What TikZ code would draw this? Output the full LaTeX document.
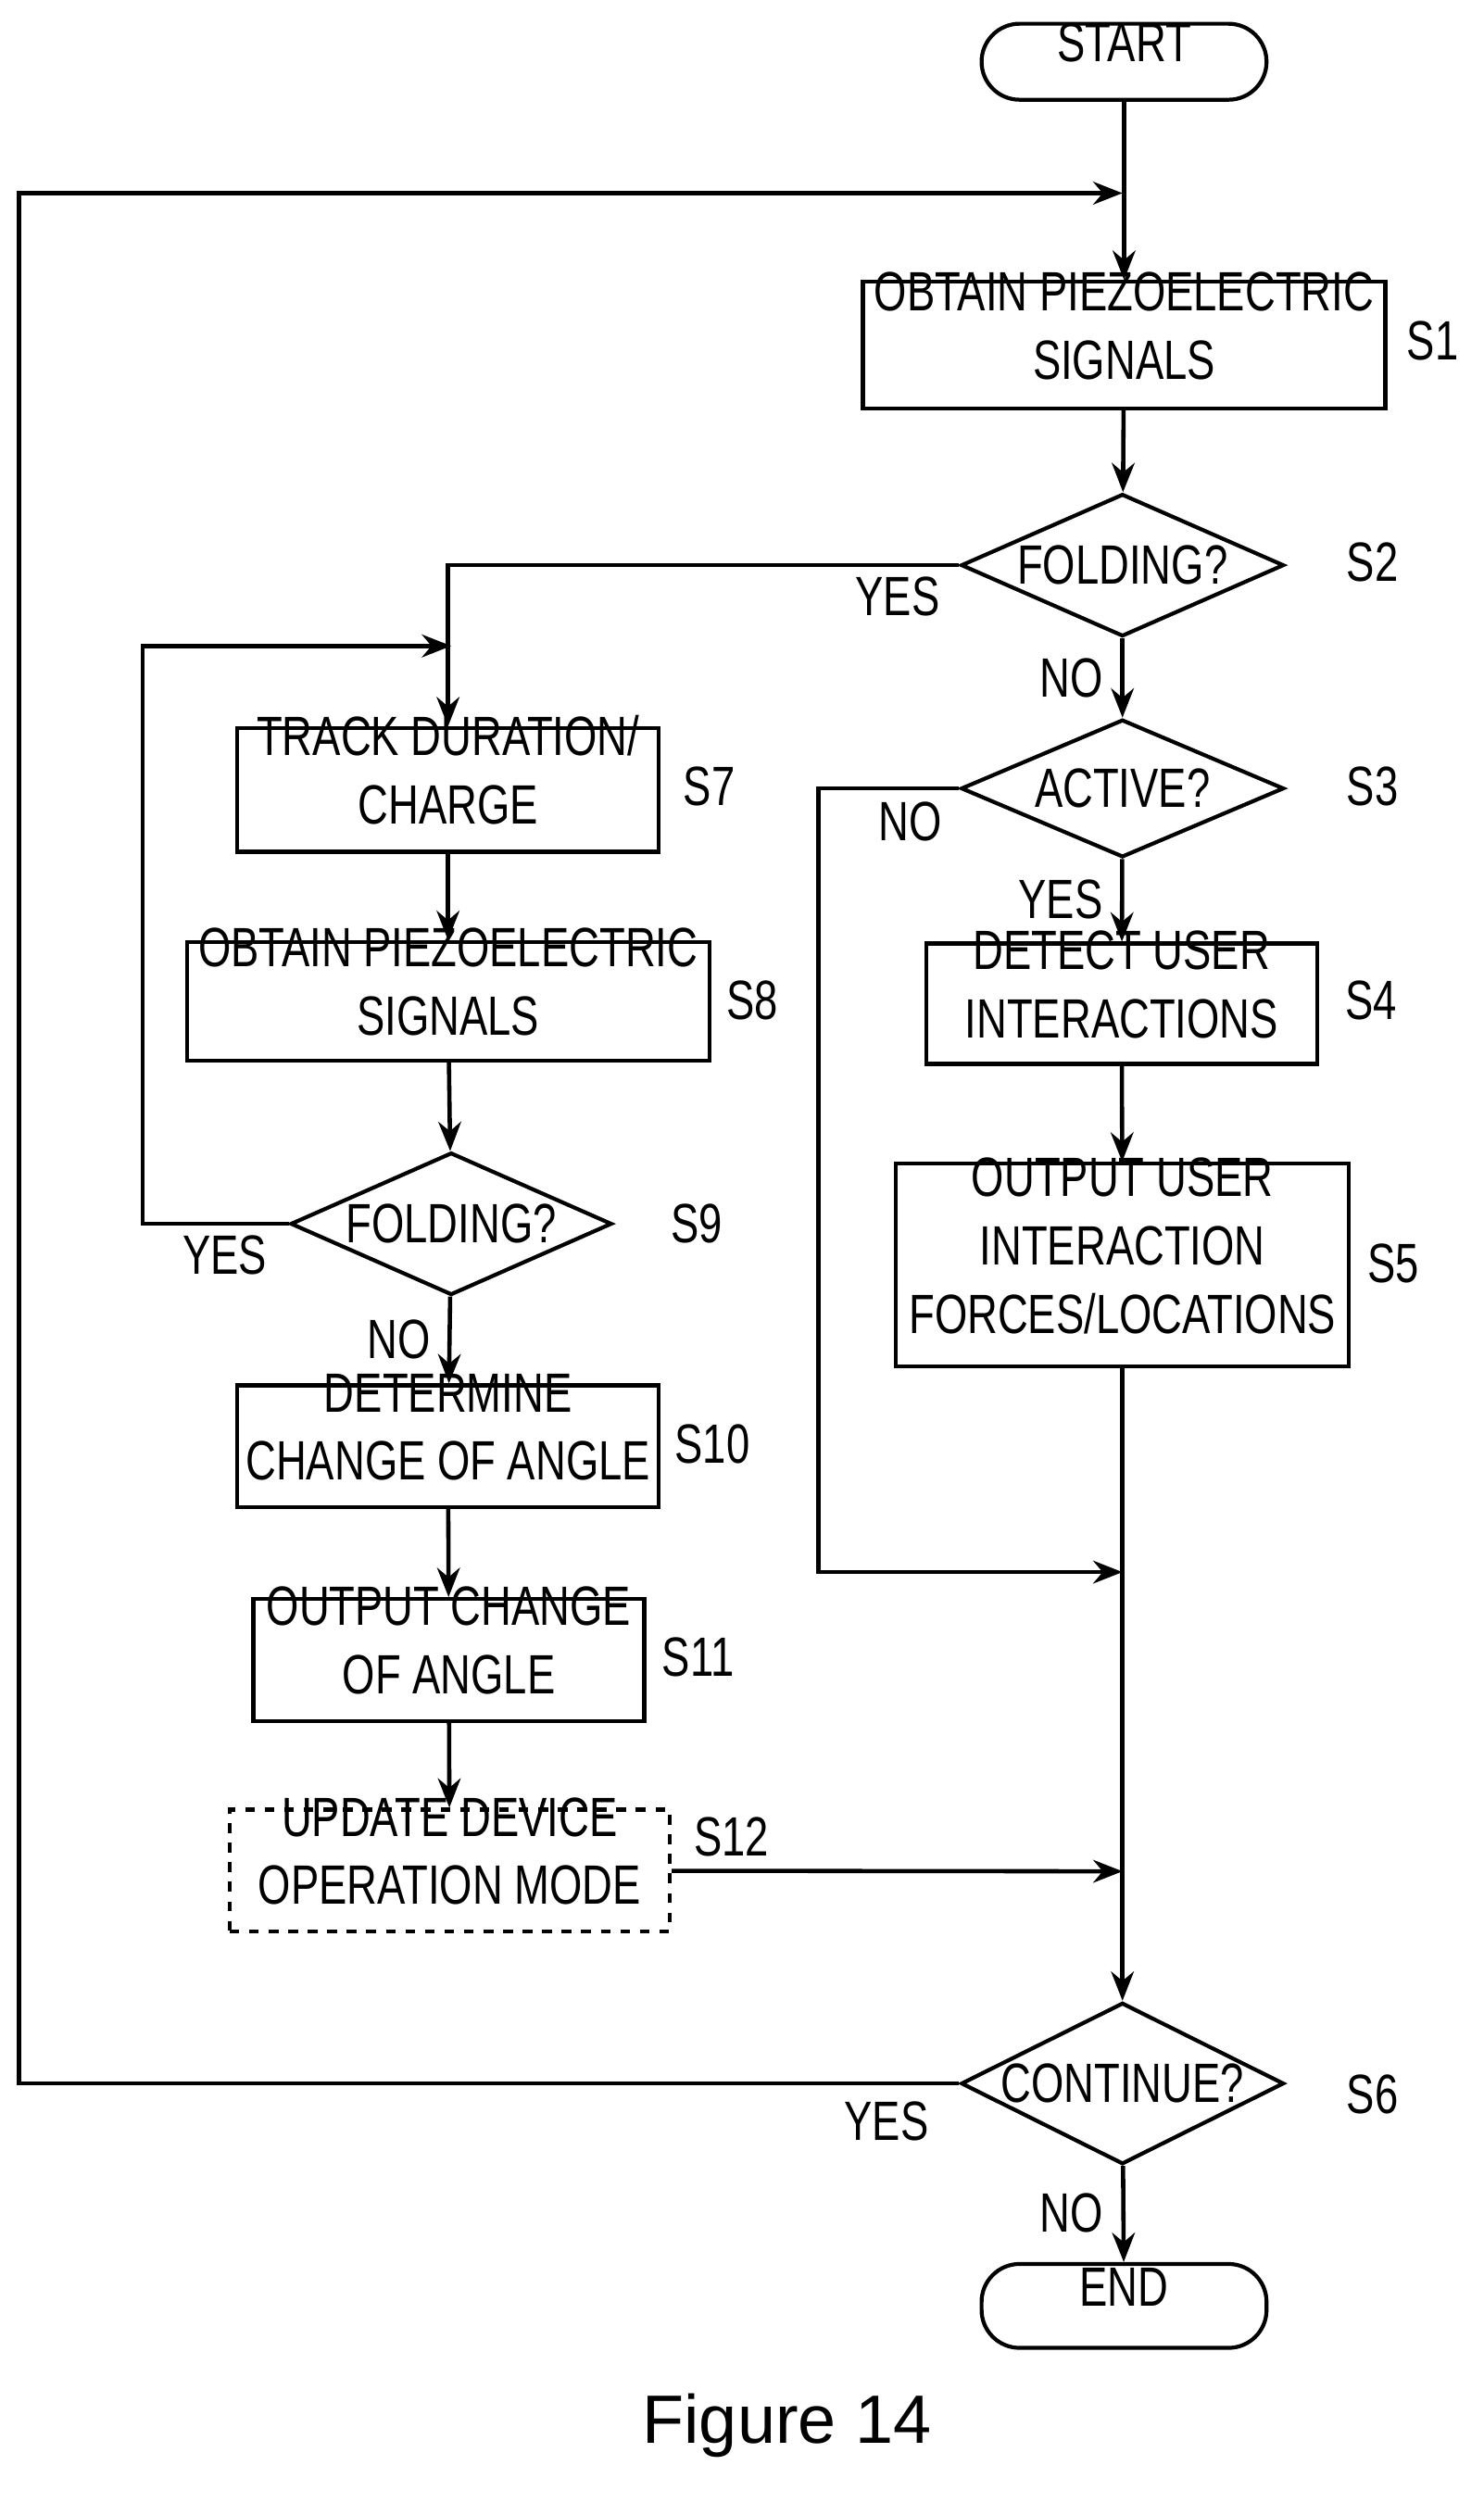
\documentclass[tikz,border=0pt]{standalone}
\usepackage{fontspec}
\setmainfont[FakeStretch=0.76]{Liberation Sans}
\newfontfamily\figfont{Liberation Sans}
\usetikzlibrary{shapes.geometric,fit,arrows.meta}
\begin{document}
\def\U{0.01709cm}
\begin{tikzpicture}[x=0.01709cm,y=-0.01709cm,
  every node/.style={font=\fontsize{17}{21}\selectfont},
  box/.style={draw,line width=1.2pt,inner sep=0pt,align=center},
  term/.style={box,rounded corners=24*\U},
  dia/.style={draw,line width=1.2pt,diamond,inner sep=0pt},
  ln/.style={line width=1.3pt},
  ar/.style={ln,-{Stealth[length=9pt,width=7pt]}}]
\useasboundingbox (0,0) rectangle (937,1581);
\node[term,fit={(620,15)(800,63)}] (start) {START};
\node[box,fit={(545,178)(875,258)}] (s1) {OBTAIN PIEZOELECTRIC\\SIGNALS};
\node[dia,minimum width=204*\U,minimum height=90*\U] (s2) at (709,357) {};
\node at (s2) {FOLDING?};
\node[dia,minimum width=204*\U,minimum height=87*\U] (s3) at (709,498) {};
\node at (s3) {ACTIVE?};
\node[box,fit={(585,596)(832,672)}] (s4) {DETECT USER\\INTERACTIONS};
\node[box,fit={(566,735)(852,863)}] (s5) {OUTPUT USER\\INTERACTION\\FORCES/LOCATIONS};
\node[dia,minimum width=204*\U,minimum height=102*\U] (s6) at (709,1316) {};
\node at (s6) {CONTINUE?};
\node[term,fit={(620,1430)(800,1483)}] (end) {END};
\node[box,fit={(150,460)(416,538)}] (s7) {TRACK DURATION/\\CHARGE};
\node[box,fit={(118,595)(448,670)}] (s8) {OBTAIN PIEZOELECTRIC\\SIGNALS};
\node[dia,minimum width=203*\U,minimum height=90*\U] (s9) at (285,773) {};
\node at (s9) {FOLDING?};
\node[box,fit={(150,875)(416,952)}] (s10) {DETERMINE\\CHANGE OF ANGLE};
\node[box,fit={(160,1010)(407,1087)}] (s11) {OUTPUT CHANGE\\OF ANGLE};
\node[box,dashed,fit={(145,1143)(423,1220)}] (s12) {UPDATE DEVICE\\OPERATION MODE};
% step labels
\node (l1) at (905,215) {S1};
\node (l2) at (867,355) {S2};
\node (l3) at (867,497) {S3};
\node (l4) at (866,632) {S4};
\node (l5) at (880,798) {S5};
\node (l6) at (867,1323) {S6};
\node (l7) at (448,497) {S7};
\node (l8) at (475,632) {S8};
\node (l9) at (440,773) {S9};
\node (l10) at (450,912) {S10};
\node (l11) at (441,1047) {S11};
\node (l12) at (462,1160) {S12};
% yes/no
\node (y2) at (567,377) {YES};
\node (n2) at (677,428) {NO};
\node (n3) at (575,519) {NO};
\node (y3) at (670,568) {YES};
\node (y6) at (560,1340) {YES};
\node (n6) at (677,1398) {NO};
\node (y9) at (142,793) {YES};
\node (n9) at (252,846) {NO};
\node[font=\figfont\fontsize{21}{25}\selectfont] (fig) at (497,1532) {Figure 14};
% coordinates
\coordinate (j1) at (709,122);
\coordinate (j2) at (285,408);
\coordinate (j3) at (709,993);
\coordinate (j4) at (709,1182);
% connectors
\draw[ar] (start) -- (s1);
\draw[ar] (s6.west) -- (12,1316) -- (12,122) -- (j1);
\draw[ar] (s1) -- (s2);
\draw[ar] (s2) -- (s3);
\draw[ar] (s3) -- (s4);
\draw[ar] (s4) -- (s5);
\draw[ar] (s5) -- (s6);
\draw[ar] (s6) -- (end);
\draw[ar] (s3.west) -- (517,498) |- (j3);
\draw[ar] (s2.west) -| (s7.north);
\draw[ar] (s9.west) -- (90,773) |- (j2);
\draw[ar] (s7) -- (s8);
\draw[ar] (s8) -- (s9);
\draw[ar] (s9) -- (s10);
\draw[ar] (s10) -- (s11);
\draw[ar] (s11) -- (s12);
\draw[ar] (s12) -- (j4);
\end{tikzpicture}
\end{document}
